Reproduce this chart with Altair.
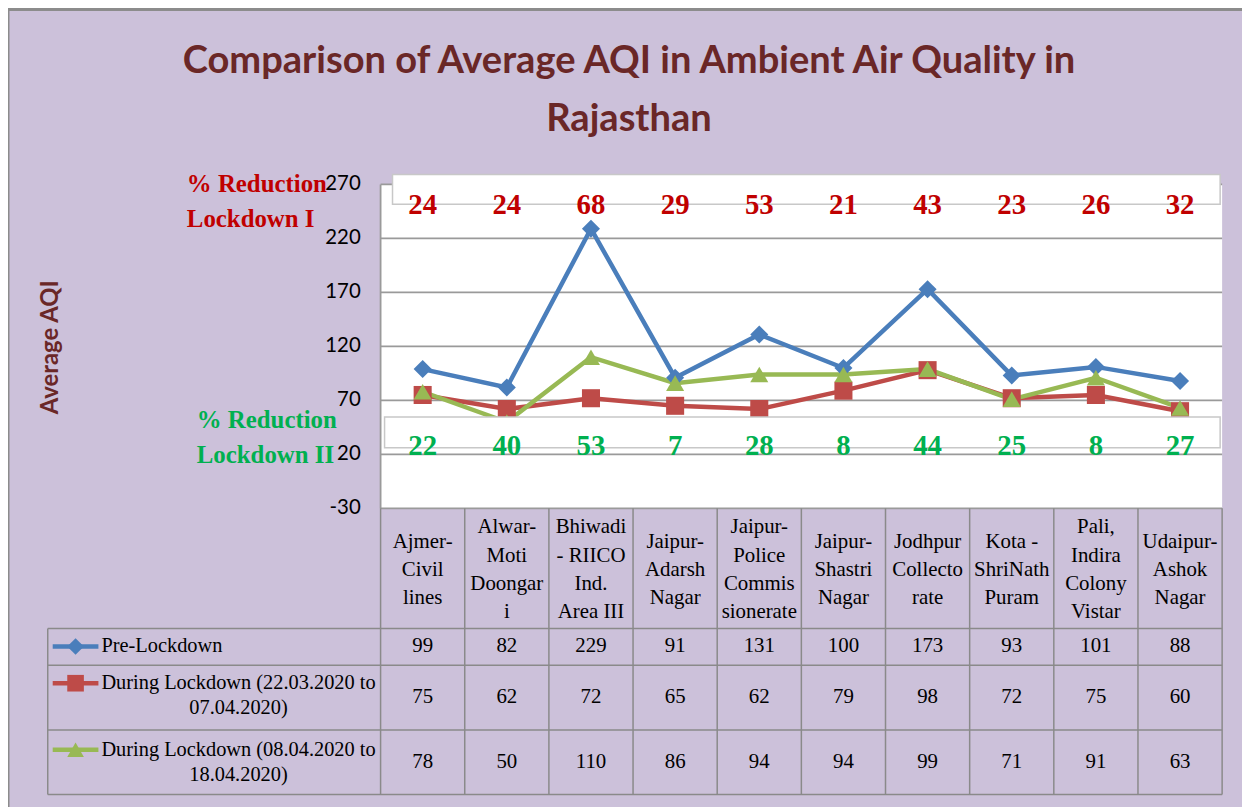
import altair as alt
import pandas as pd

# ---------------- data ----------------
categories = ["Ajmer-Civil lines", "Alwar-Moti Doongari", "Bhiwadi - RIICO Ind. Area III",
              "Jaipur-Adarsh Nagar", "Jaipur-Police Commissionerate", "Jaipur-Shastri Nagar",
              "Jodhpur Collectorate", "Kota - ShriNath Puram", "Pali, Indira Colony Vistar",
              "Udaipur-Ashok Nagar"]
header_labels = ["Ajmer-\nCivil\nlines", "Alwar-\nMoti\nDoongar\ni", "Bhiwadi\n- RIICO\nInd.\nArea III",
                 "Jaipur-\nAdarsh\nNagar", "Jaipur-\nPolice\nCommis\nsionerate", "Jaipur-\nShastri\nNagar",
                 "Jodhpur\nCollecto\nrate", "Kota -\nShriNath\nPuram", "Pali,\nIndira\nColony\nVistar",
                 "Udaipur-\nAshok\nNagar"]
series_names = ["Pre-Lockdown",
                "During Lockdown (22.03.2020 to 07.04.2020)",
                "During Lockdown (08.04.2020 to 18.04.2020)"]
legend_labels = ["Pre-Lockdown",
                 "During Lockdown (22.03.2020 to\n07.04.2020)",
                 "During Lockdown (08.04.2020 to\n18.04.2020)"]
pre_lockdown = [99, 82, 229, 91, 131, 100, 173, 93, 101, 88]
lockdown_1 = [75, 62, 72, 65, 62, 79, 98, 72, 75, 60]
lockdown_2 = [78, 50, 110, 86, 94, 94, 99, 71, 91, 63]
reduction_1 = [24, 24, 68, 29, 53, 21, 43, 23, 26, 32]
reduction_2 = [22, 40, 53, 7, 28, 8, 44, 25, 8, 27]
y_ticks = [270, 220, 170, 120, 70, 20, -30]
title_lines = ["Comparison of Average AQI in Ambient Air Quality in", "Rajasthan"]
y_title = "Average AQI"
red_note = ["% Reduction", "Lockdown I"]
green_note = ["% Reduction", "Lockdown II"]

series_colors = ["#4A7EBB", "#BE4B48", "#98B954"]
series_shapes = ["diamond", "square", "triangle-up"]

# ---------------- layout calibration ----------------
W, H = 1242, 799
PLOT_L, COL_W = 383.0, 84.7
Y_TOP_PX, PX_PER = 183.0, 1.0867
Y_MIN, Y_MAX = -30, 270


def ux(px):
    return (px - PLOT_L) / COL_W


def uy(py):
    return Y_MAX - (py - Y_TOP_PX) / PX_PER


XDOM = [ux(8), ux(8 + W)]
YDOM = [uy(8 + H), uy(8)]
XS = alt.Scale(domain=XDOM, nice=False, zero=False)
YS = alt.Scale(domain=YDOM, nice=False, zero=False)


def X(f):
    return alt.X(f, type="quantitative", scale=XS, axis=None)


def Y(f):
    return alt.Y(f, type="quantitative", scale=YS, axis=None)


N = len(categories)
GRID = "#9A9A9A"
TABLE_LINE = "#8A8A8A"
SERIF = "Liberation Serif"
SANS = "Lato"
TITLE_COLOR = "#6A2727"

layers = []

# outer frame
frame = pd.DataFrame({"a": [0]})
layers.append(alt.Chart(frame).mark_rect(fillOpacity=0, stroke="#8C8C8C", strokeWidth=3).encode(
    x=alt.value(0), x2=alt.value(W + 20), y=alt.value(-1), y2=alt.value(H + 20)))

# plot area
plot_bg = pd.DataFrame({"x": [0], "x2": [N], "y": [Y_MIN], "y2": [Y_MAX]})
layers.append(alt.Chart(plot_bg).mark_rect(fill="white").encode(
    x=X("x"), x2="x2", y=Y("y"), y2="y2"))

# gridlines
grid = pd.DataFrame({"y": y_ticks, "x": 0, "x2": N})
layers.append(alt.Chart(grid).mark_rule(color=GRID, strokeWidth=1.8).encode(
    x=X("x"), x2="x2", y=Y("y")))
axis_line = pd.DataFrame({"x": [0], "y": [Y_MIN], "y2": [Y_MAX]})
layers.append(alt.Chart(axis_line).mark_rule(color=GRID, strokeWidth=1.8).encode(
    x=X("x"), y=Y("y"), y2="y2"))

# series lines + markers
rows = []
for s, vals in zip(series_names, [pre_lockdown, lockdown_1, lockdown_2]):
    for i, v in enumerate(vals):
        rows.append({"series": s, "xc": i + 0.5, "value": v, "order": i})
long_df = pd.DataFrame(rows)
color_enc = alt.Color("series:N", scale=alt.Scale(domain=series_names, range=series_colors), legend=None)
shape_enc = alt.Shape("series:N", scale=alt.Scale(domain=series_names, range=series_shapes), legend=None)
layers.append(alt.Chart(long_df).mark_line(strokeWidth=4.5).encode(
    x=X("xc"), y=Y("value"), color=color_enc, detail="series:N", order="order:Q"))
layers.append(alt.Chart(long_df).mark_point(filled=True, opacity=1, size=330).encode(
    x=X("xc"), y=Y("value"), color=color_enc, shape=shape_enc))

# white label boxes
boxes = pd.DataFrame({"x": [ux(395), ux(387)], "x2": [ux(1228), ux(1228)],
                      "y": [uy(173), uy(417)], "y2": [uy(203), uy(448)]})
layers.append(alt.Chart(boxes).mark_rect(fill="white", stroke="#C8C8C8", strokeWidth=1.5).encode(
    x=X("x"), x2="x2", y=Y("y"), y2="y2"))

# reduction numbers
red_df = pd.DataFrame({"xc": [i + 0.5 for i in range(N)], "t": [str(v) for v in reduction_1], "y": uy(204)})
green_df = pd.DataFrame({"xc": [i + 0.5 for i in range(N)], "t": [str(v) for v in reduction_2], "y": uy(446)})
layers.append(alt.Chart(red_df).mark_text(font=SERIF, fontWeight="bold", fontSize=29, color="#C00000",
                                          baseline="middle").encode(x=X("xc"), y=Y("y"), text="t:N"))
layers.append(alt.Chart(green_df).mark_text(font=SERIF, fontWeight="bold", fontSize=29, color="#00B050",
                                            baseline="middle").encode(x=X("xc"), y=Y("y"), text="t:N"))

# y tick labels
ytl = pd.DataFrame({"y": y_ticks, "x": ux(363), "t": [str(v) for v in y_ticks]})
layers.append(alt.Chart(ytl).mark_text(font=SANS, fontSize=20.5, color="#000000", align="right",
                                       baseline="middle").encode(x=X("x"), y=Y("y"), text="t:N"))

# notes
notes = pd.DataFrame({"t": red_note, "x": ux(188), "y": [uy(183), uy(218)]})
layers.append(alt.Chart(notes).mark_text(font=SERIF, fontWeight="bold", fontSize=25, color="#C00000",
                                         align="left", baseline="middle").encode(x=X("x"), y=Y("y"), text="t:N"))
notes2 = pd.DataFrame({"t": green_note, "x": ux(198), "y": [uy(420), uy(455)]})
layers.append(alt.Chart(notes2).mark_text(font=SERIF, fontWeight="bold", fontSize=25, color="#00B050",
                                          align="left", baseline="middle").encode(x=X("x"), y=Y("y"), text="t:N"))

# y axis title
yt = pd.DataFrame({"t": [y_title], "x": ux(51), "y": uy(347)})
layers.append(alt.Chart(yt).mark_text(font=SANS, fontWeight="bold", fontSize=24, color=TITLE_COLOR,
                                      angle=270, baseline="middle").encode(x=X("x"), y=Y("y"), text="t:N"))

# title
tt = pd.DataFrame({"t": title_lines, "x": ux(633), "y": [uy(60), uy(118)]})
layers.append(alt.Chart(tt).mark_text(font=SANS, fontWeight="bold", fontSize=38.3, color=TITLE_COLOR,
                                      baseline="middle").encode(x=X("x"), y=Y("y"), text="t:N"))

# ---------------- table ----------------
row_lines_px = [630, 667, 732, 797]
hl = pd.DataFrame({"y": [uy(p) for p in row_lines_px], "x": ux(48), "x2": N})
layers.append(alt.Chart(hl).mark_rule(color=TABLE_LINE, strokeWidth=1.5).encode(x=X("x"), x2="x2", y=Y("y")))
vl = pd.DataFrame({"x": list(range(N + 1)), "y": Y_MIN, "y2": uy(797)})
layers.append(alt.Chart(vl).mark_rule(color=TABLE_LINE, strokeWidth=1.5).encode(x=X("x"), y=Y("y"), y2="y2"))
vl2 = pd.DataFrame({"x": [ux(48)], "y": [uy(630)], "y2": [uy(797)]})
layers.append(alt.Chart(vl2).mark_rule(color=TABLE_LINE, strokeWidth=1.5).encode(x=X("x"), y=Y("y"), y2="y2"))

# multi-line text: first line placed at y, so shift block to centre it
HDR_LH = 28.5
hdr = pd.DataFrame({
    "xc": [i + 0.5 for i in range(N)],
    "t": header_labels,
    "y": [uy(571 - (lbl.count("\n")) * HDR_LH / 2) for lbl in header_labels],
})
layers.append(alt.Chart(hdr).mark_text(font=SERIF, fontSize=21, color="#000000", baseline="middle",
                                       lineBreak="\n", lineHeight=HDR_LH).encode(x=X("xc"), y=Y("y"), text="t:N"))

row_centers = [648, 699, 764]
vals_rows = []
for rc, vals in zip(row_centers, [pre_lockdown, lockdown_1, lockdown_2]):
    for i, v in enumerate(vals):
        vals_rows.append({"xc": i + 0.5, "y": uy(rc), "t": str(v)})
layers.append(alt.Chart(pd.DataFrame(vals_rows)).mark_text(font=SERIF, fontSize=21, color="#000000",
                                                           baseline="middle").encode(x=X("xc"), y=Y("y"), text="t:N"))

# legend keys
key_y = [648, 685, 752]
keys = pd.DataFrame({"series": series_names, "x": ux(53), "x2": ux(99), "xm": ux(76),
                     "y": [uy(p) for p in key_y]})
layers.append(alt.Chart(keys).mark_rule(strokeWidth=4.5).encode(x=X("x"), x2="x2", y=Y("y"), color=color_enc))
layers.append(alt.Chart(keys).mark_point(filled=True, opacity=1, size=280).encode(
    x=X("xm"), y=Y("y"), color=color_enc, shape=shape_enc))

leg1 = pd.DataFrame({"t": [legend_labels[0]], "x": [ux(102)], "y": [uy(648)]})
layers.append(alt.Chart(leg1).mark_text(font=SERIF, fontSize=20.5, color="#000000", align="left",
                                        baseline="middle").encode(x=X("x"), y=Y("y"), text="t:N"))
leg2 = pd.DataFrame({"t": legend_labels[1:], "x": ux(240), "y": [uy(685), uy(752)]})
layers.append(alt.Chart(leg2).mark_text(font=SERIF, fontSize=20.5, color="#000000", align="center",
                                        baseline="middle", lineBreak="\n", lineHeight=25).encode(
    x=X("x"), y=Y("y"), text="t:N"))

chart = alt.layer(*layers).properties(
    width=W, height=H, autosize="none", padding=0
).configure(background="#CCC1DA").configure_view(strokeWidth=0)

chart.save("out.html", embed_options={"renderer": "svg", "actions": False})
